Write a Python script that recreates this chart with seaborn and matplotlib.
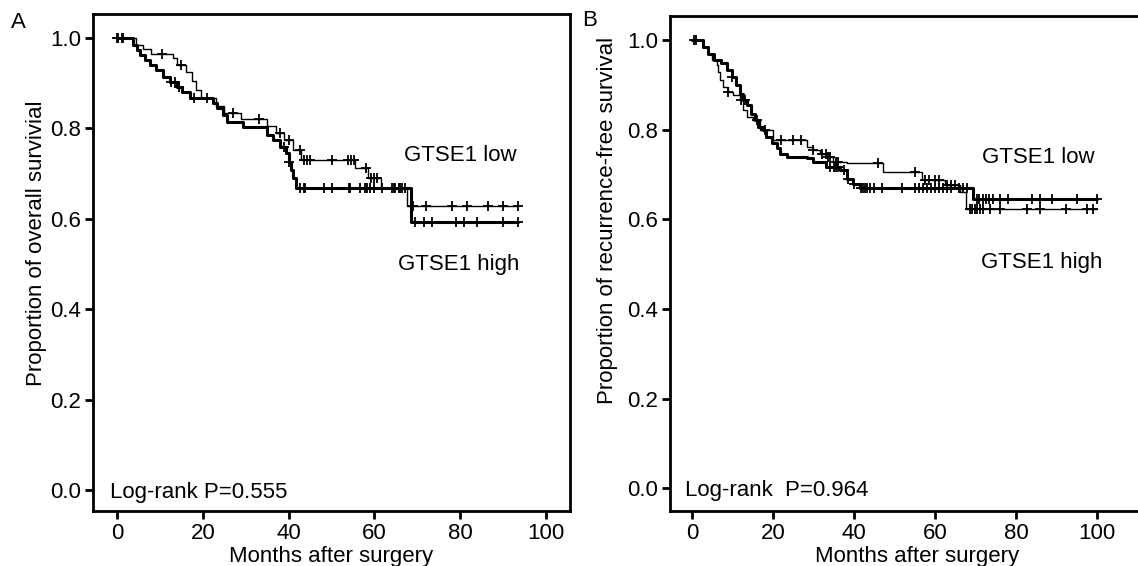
import numpy as np
import pandas as pd
import matplotlib
matplotlib.use("Agg")
from matplotlib import pyplot as plt
import seaborn as sns

# Panel A - overall survival, step times (months) and survival after each step
os_low_time = [4.5, 6.0, 8.0, 13.0, 14.0, 16.0, 17.5, 18.5, 19.5, 23.0, 25.0, 29.0,
               35.0, 37.0, 39.0, 41.0, 43.0, 55.5, 58.5, 61.5, 67.5]
os_low_surv = [0.985, 0.975, 0.965, 0.955, 0.940, 0.925, 0.905, 0.885, 0.868, 0.850, 0.835, 0.820,
               0.805, 0.790, 0.775, 0.752, 0.730, 0.712, 0.690, 0.668, 0.628]
os_low_cens = [0.3, 1.2, 10.5, 15.0, 21.0, 27.0, 33.0, 38.0, 40.0, 42.7, 43.5, 44.3, 45.0, 50.2,
               53.8, 54.6, 55.2, 58.0, 59.1, 59.9, 60.7, 64.5, 66.0,
               69.0, 72.0, 78.0, 81.5, 86.5, 90.0, 93.5]
os_low_end = 93.5

os_high_time = [3.8, 4.6, 5.4, 6.5, 7.7, 9.2, 10.8, 12.3, 13.9, 15.1, 17.0, 22.4, 23.2, 24.8,
                25.6, 29.4, 34.9, 36.4, 38.0, 39.5, 40.0, 40.5, 41.0, 41.8, 68.5]
os_high_surv = [0.984, 0.973, 0.962, 0.951, 0.940, 0.929, 0.914, 0.903, 0.892, 0.881, 0.867, 0.856,
                0.845, 0.830, 0.815, 0.804, 0.785, 0.774, 0.759, 0.745, 0.725, 0.708, 0.690, 0.668,
                0.592]
os_high_cens = [0.0, 1.5, 12.5, 13.5, 14.5, 18.0, 39.0, 40.2, 42.7, 43.5, 43.9, 48.2, 50.2, 54.0,
                54.4, 56.7, 57.9, 58.3, 59.0, 59.8, 61.8, 64.1, 64.9, 65.7, 66.4, 67.2,
                69.5, 71.5, 73.5, 79.0, 81.0, 84.0, 90.0, 93.5]
os_high_end = 93.5

# Panel B - recurrence-free survival
rfs_low_time = [2.8, 4.0, 5.5, 7.3, 8.6, 9.8, 11.0, 11.9, 12.7, 13.5, 14.7, 15.6, 16.4, 17.6,
                18.4, 19.7, 20.9, 21.7, 23.4, 28.3, 29.9, 33.2, 36.5, 38.2, 39.9, 41.5, 69.5]
rfs_low_surv = [0.985, 0.970, 0.955, 0.948, 0.933, 0.918, 0.900, 0.881, 0.866, 0.855, 0.836, 0.822,
                0.807, 0.799, 0.784, 0.770, 0.759, 0.747, 0.740, 0.736, 0.729, 0.717, 0.710, 0.691,
                0.680, 0.669, 0.646]
rfs_low_cens = [1.0, 10.0, 13.0, 16.0, 18.0, 34.0, 35.0, 35.5, 36.0, 37.5, 38.5, 40.0, 41.8, 42.3,
                42.8, 43.3, 44.0, 45.0, 47.0, 52.0, 55.0, 56.0, 57.0, 58.0, 59.0, 60.0, 61.0,
                62.0, 63.0, 64.0, 66.0, 67.0, 68.0,
                70.3, 71.0, 71.8, 72.5, 73.3, 74.4, 76.0, 78.0, 84.0, 86.0, 89.0, 95.0, 100.0]
rfs_low_end = 100.0

rfs_high_time = [2.8, 4.0, 4.9, 6.1, 6.5, 6.9, 7.7, 9.0, 10.2, 11.9, 12.7, 13.5, 15.1, 16.8,
                 20.1, 28.3, 29.9, 31.6, 33.2, 34.9, 38.2, 47.2, 56.7, 62.5, 66.2, 67.8]
rfs_high_surv = [0.985, 0.970, 0.955, 0.944, 0.929, 0.911, 0.896, 0.885, 0.877, 0.866, 0.844, 0.829,
                 0.822, 0.799, 0.777, 0.762, 0.755, 0.747, 0.740, 0.729, 0.725, 0.706, 0.688, 0.676,
                 0.662, 0.623]
rfs_high_cens = [0.5, 9.0, 12.0, 22.0, 25.0, 27.0, 30.0, 32.0, 33.0, 33.6, 34.2, 35.5, 36.0, 46.0,
                 55.0, 57.5, 58.5, 60.0, 61.0, 63.0, 64.0, 65.0,
                 68.6, 69.2, 69.8, 70.5, 71.2, 72.0, 73.5, 76.0, 82.7, 86.0, 92.5, 97.5, 99.0]
rfs_high_end = 100.0

ticks_x = [0, 20, 40, 60, 80, 100]
ticks_y = [0.0, 0.2, 0.4, 0.6, 0.8, 1.0]


def km_frame(times, surv, end):
    t = [0.0] + list(times) + [end]
    s = [1.0] + list(surv) + [surv[-1]]
    return pd.DataFrame({'month': t, 'surv': s})


def censor_frame(times, surv, cens):
    t = np.array([0.0] + list(times))
    s = np.array([1.0] + list(surv))
    idx = np.searchsorted(t, cens, side='right') - 1
    return pd.DataFrame({'month': cens, 'surv': s[idx]})


def draw_curve(ax, times, surv, cens, end, lw):
    km = km_frame(times, surv, end)
    sns.lineplot(data=km, x='month', y='surv', drawstyle='steps-post', estimator=None,
                 color='black', linewidth=lw, ax=ax)
    cf = censor_frame(times, surv, cens)
    sns.scatterplot(data=cf, x='month', y='surv', marker='+', s=50, color='black',
                    linewidth=1.3, ax=ax, zorder=3)


sns.set_style("ticks")
plt.rcParams['font.family'] = ['Liberation Sans', 'DejaVu Sans']
plt.rcParams['text.color'] = 'black'
plt.rcParams['axes.labelcolor'] = 'black'
plt.rcParams['xtick.color'] = 'black'
plt.rcParams['ytick.color'] = 'black'
fs = 16

fig = plt.figure(figsize=(11.38, 5.66), dpi=100)
ax_a = fig.add_axes([0.0817, 0.0972, 0.4192, 0.8781])
ax_b = fig.add_axes([0.5888, 0.0972, 0.4174, 0.8745])

draw_curve(ax_a, os_low_time, os_low_surv, os_low_cens, os_low_end, 1.0)
draw_curve(ax_a, os_high_time, os_high_surv, os_high_cens, os_high_end, 2.2)
draw_curve(ax_b, rfs_high_time, rfs_high_surv, rfs_high_cens, rfs_high_end, 1.0)
draw_curve(ax_b, rfs_low_time, rfs_low_surv, rfs_low_cens, rfs_low_end, 2.2)

ax_a.set_xlim(-5.6, 105.6)
ax_a.set_ylim(-0.046, 1.053)
ax_b.set_xlim(-5.4, 111.9)
ax_b.set_ylim(-0.051, 1.054)

for ax in [ax_a, ax_b]:
    ax.set_xticks(ticks_x)
    ax.set_yticks(ticks_y)
    ax.set_yticklabels([f'{v:.1f}' for v in ticks_y])
    ax.tick_params(direction='out', length=6, width=2, labelsize=fs, pad=2.5,
                   color='black', labelcolor='black')
    for sp in ax.spines.values():
        sp.set_visible(True)
        sp.set_linewidth(2)
        sp.set_color('black')
    ax.set_xlabel('Months after surgery', fontsize=fs)

ax_a.set_ylabel('Proportion of overall survivial', fontsize=fs)
ax_a.yaxis.set_label_coords(-0.097, 0.539)
ax_b.set_ylabel('Proportion of recurrence-free survival', fontsize=fs)
ax_b.yaxis.set_label_coords(-0.109, 0.588)
ax_a.xaxis.set_label_coords(0.5, -0.071)
ax_b.xaxis.set_label_coords(0.52, -0.071)

ax_a.text(67, 0.741, 'GTSE1 low', fontsize=fs, va='center')
ax_a.text(65.5, 0.498, 'GTSE1 high', fontsize=fs, va='center')
ax_a.text(-1.6, -0.005, 'Log-rank P=0.555', fontsize=fs, va='center')
ax_b.text(71.6, 0.739, 'GTSE1 low', fontsize=fs, va='center')
ax_b.text(71.3, 0.504, 'GTSE1 high', fontsize=fs, va='center')
ax_b.text(-1.7, -0.005, 'Log-rank  P=0.964', fontsize=fs, va='center')

fig.text(11 / 1138, 1 - 22 / 566, 'A', fontsize=fs, va='center', ha='left')
fig.text(582 / 1138, 1 - 21 / 566, 'B', fontsize=fs, va='center', ha='left')

fig.savefig('out.png', dpi=100)
